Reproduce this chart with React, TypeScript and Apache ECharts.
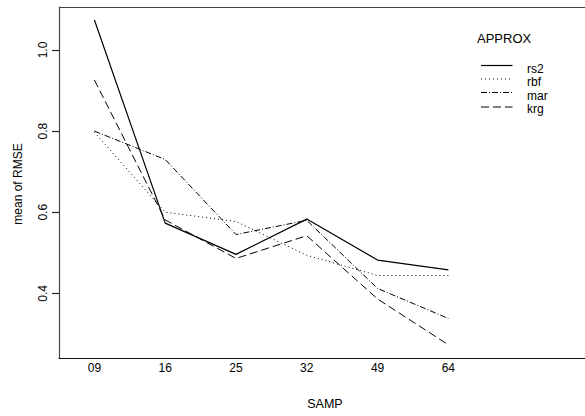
import React, { useEffect, useRef } from "react";
import * as echarts from "echarts";

const samp = ["09", "16", "25", "32", "49", "64"];
const rs2 = [1.074, 0.573, 0.496, 0.583, 0.482, 0.458];
const rbf = [0.797, 0.6, 0.577, 0.494, 0.444, 0.444];
const mar = [0.8, 0.73, 0.545, 0.58, 0.412, 0.338];
const krg = [0.926, 0.581, 0.486, 0.542, 0.386, 0.273];
const yTicks = [0.4, 0.6, 0.8, 1.0];
const legendNames = ["rs2", "rbf", "mar", "krg"];

const FONT = "Liberation Sans, Arial, Helvetica, sans-serif";

export default function App() {
  const ref = useRef<HTMLDivElement>(null);
  useEffect(() => {
    if (!ref.current) return;
    const chart = echarts.init(ref.current, undefined, { renderer: "svg" });
    const styles: Record<string, any> = {
      rs2: { type: "solid", width: 1.2 },
      rbf: { type: [1, 3], width: 1 },
      mar: { type: [6, 2, 1, 2], width: 1 },
      krg: { type: [8, 4], width: 1 },
    };
    const seriesData: Record<string, number[]> = { rs2, rbf, mar, krg };
    const legendLineY = [65.5, 79, 92.5, 107];
    const legendTextY = [68.5, 82, 95.5, 109];
    const graphic: any[] = [
      {
        type: "line",
        shape: { x1: 59, y1: 7.5, x2: 585, y2: 7.5 },
        style: { stroke: "#444", lineWidth: 1 },
      },
      {
        type: "text",
        x: 477,
        y: 38.5,
        style: { text: "APPROX", font: `13px ${FONT}`, fill: "#000", align: "left", verticalAlign: "middle" },
      },
      {
        type: "text",
        x: 17.5,
        y: 184,
        rotation: Math.PI / 2,
        style: { text: "mean of RMSE", font: `12px ${FONT}`, fill: "#000", align: "center", verticalAlign: "middle" },
      },
      {
        type: "text",
        x: 325,
        y: 404,
        style: { text: "SAMP", font: `12.5px ${FONT}`, fill: "#000", align: "center", verticalAlign: "middle" },
      },
    ];
    legendNames.forEach((n, i) => {
      graphic.push({
        type: "line",
        shape: { x1: 481, y1: legendLineY[i], x2: 512.5, y2: legendLineY[i] },
        style: { stroke: "#000", lineWidth: styles[n].width, lineDash: styles[n].type === "solid" ? null : styles[n].type },
      });
      graphic.push({
        type: "text",
        x: 527,
        y: legendTextY[i],
        style: { text: n, font: `12px ${FONT}`, fill: "#000", align: "left", verticalAlign: "middle" },
      });
    });

    chart.setOption({
      animation: false,
      grid: {
        left: 59,
        top: 7,
        width: 526,
        height: 351,
        show: false,
      },
      xAxis: {
        type: "value",
        min: -0.5,
        max: 6.93,
        axisLine: { show: true, onZero: false, lineStyle: { color: "#111", width: 1.2 } },
        axisTick: { show: false },
        splitLine: { show: false },
        axisLabel: {
          customValues: [0, 1, 2, 3, 4, 5],
          formatter: (v: number) => samp[Math.round(v)] ?? "",
          fontFamily: FONT,
          fontSize: 12,
          color: "#000",
          margin: 4,
        },
      },
      yAxis: {
        type: "value",
        min: 0.2405,
        max: 1.106,
        axisLine: { show: true, onZero: false, lineStyle: { color: "#444", width: 1.2 } },
        splitLine: { show: false },
        axisTick: { show: true, customValues: yTicks, length: 7, lineStyle: { color: "#222", width: 1.2 } },
        axisLabel: {
          customValues: yTicks,
          formatter: (v: number) => v.toFixed(1),
          rotate: 90,
          fontFamily: FONT,
          fontSize: 12,
          color: "#000",
          margin: 10,
        },
      },
      graphic,
      series: legendNames.map((n) => ({
        type: "line",
        name: n,
        symbol: "none",
        data: seriesData[n].map((v, i) => [i, v]),
        lineStyle: { color: "#000", width: styles[n].width, type: styles[n].type },
      })),
    });
    return () => chart.dispose();
  }, []);
  return <div ref={ref} style={{ position: "absolute", left: 0, top: 0, width: 585, height: 416 }} />;
}
